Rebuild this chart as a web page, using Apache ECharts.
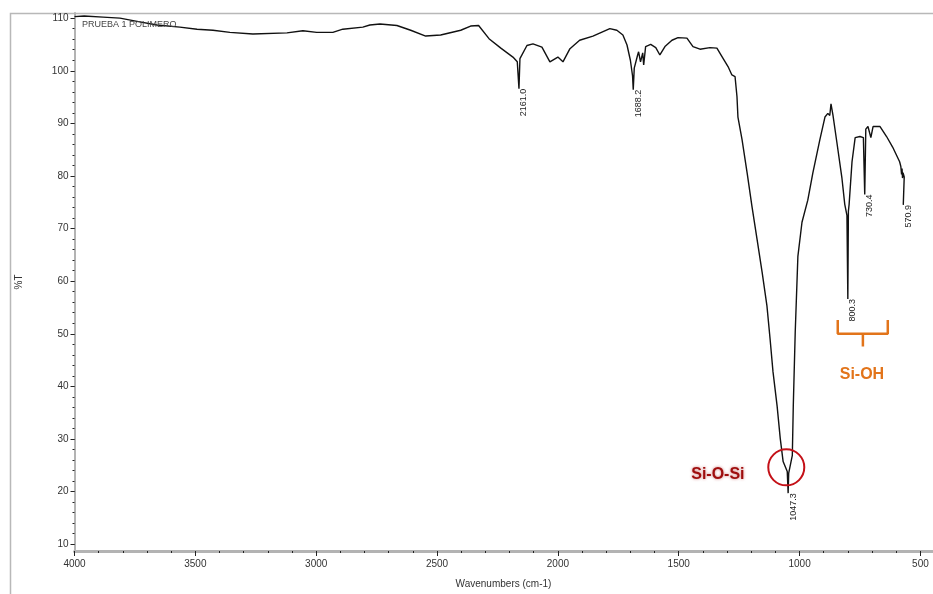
<!DOCTYPE html>
<html>
<head>
<meta charset="utf-8">
<script src="https://cdn.jsdelivr.net/npm/echarts@6.0.0/dist/echarts.min.js"></script>
<style>
  html, body { margin: 0; padding: 0; background: #fff; }
  #chart { width: 933px; height: 594px; }
</style>
</head>
<body>
<div id="chart"></div>
<script>
// FTIR spectrum of sample "PRUEBA 1 POLIMERO"
const wavenumber = [
  4000, 3960, 3882, 3812, 3741, 3659, 3564, 3493, 3427, 3357, 3262, 3121, 3055, 2998, 2931,
  2890, 2807, 2778, 2736, 2666, 2609, 2547, 2485, 2402, 2361, 2328, 2285, 2236, 2186, 2168,
  2161.0, 2157, 2128, 2103, 2066, 2033, 2000, 1979, 1950, 1910, 1855, 1785, 1756, 1731, 1714,
  1700, 1691, 1688.2, 1684, 1670, 1666, 1658, 1649, 1645, 1637, 1616, 1595, 1578, 1557, 1528,
  1503, 1466, 1441, 1412, 1371, 1342, 1321, 1296, 1280, 1267, 1259, 1255, 1238, 1217, 1197,
  1176, 1155, 1135, 1122, 1110, 1093, 1080, 1068, 1051, 1047.3, 1045, 1030, 1026, 1018, 1007,
  990, 966, 945, 916, 895, 883, 875, 870, 862, 846, 825, 813, 804, 800.3, 798,
  795, 783, 770, 750, 736, 730.4, 726, 717, 705, 696, 667, 640, 615, 586, 581,
  578, 576, 574, 572, 567, 570.9
];
const transmittance = [
  110.3, 110.4, 110.2, 110.0, 109.4, 108.7, 108.3, 107.9, 107.7, 107.3, 107.0, 107.2, 107.6, 107.3, 107.3,
  107.9, 108.3, 108.7, 108.9, 108.6, 107.7, 106.6, 106.8, 107.7, 108.5, 108.6, 106.1, 104.3, 102.6, 101.7,
  96.6, 102.3, 104.8, 105.1, 104.5, 101.7, 102.6, 101.7, 104.2, 105.8, 106.6, 108.0, 107.7, 106.8, 104.9,
  102.0, 99.0, 96.4, 100.5, 103.0, 103.6, 101.7, 103.4, 101.1, 104.6, 105.0, 104.4, 103.0, 104.6, 105.8,
  106.3, 106.2, 104.6, 104.1, 104.4, 104.3, 102.7, 100.8, 99.2, 98.9, 95.1, 91.2, 86.9, 80.6, 74.2,
  68.0, 61.7, 55.3, 49.0, 42.8, 36.3, 30.1, 25.7, 23.8, 19.7, 23.5, 26.9, 36.3, 50.3, 64.7,
  71.2, 75.4, 80.6, 86.9, 91.2, 91.9, 91.5, 93.7, 91.6, 86.5, 79.7, 74.6, 72.5, 56.6, 73.3,
  74.6, 82.7, 87.3, 87.5, 87.3, 76.5, 88.9, 89.4, 87.3, 89.4, 89.4, 87.5, 85.5, 82.7, 81.8,
  80.3, 81.4, 79.6, 80.6, 79.8, 74.5
];

// Labelled peaks (wavenumber, %T at the peak)
const peakWavenumber = [2161.0, 1688.2, 1047.3, 800.3, 730.4, 570.9];
const peakTransmittance = [96.6, 96.4, 19.7, 56.6, 76.5, 74.5];

// Axis ticks
const xTickValues = [4000, 3500, 3000, 2500, 2000, 1500, 1000, 500];
const xMinorValues = [];
for (let v = 500; v <= 4000; v += 100) xMinorValues.push(v);
const yTickValues = [10, 20, 30, 40, 50, 60, 70, 80, 90, 100, 110];
const yMinorValues = [];
for (let v = 10; v <= 110; v += 2) yMinorValues.push(v);

// Band assignments
const siOSiLabel = ['Si-O-Si'];
const siOSiLabelAt = [1338, 23.3];
const siOSiCircleAt = [1055, 24.6];
const siOHLabel = ['Si-OH'];
const siOHLabelAt = [742, 42.2];
const siOHBracketLeft = 842;
const siOHBracketRight = 635;
const siOHBracketMid = 738;
const siOHBracketTop = 52.6;
const siOHBracketBar = 50.0;
const siOHBracketStem = 47.6;

const X_MIN = 450, X_MAX = 4000, Y_MIN = 8.7, Y_MAX = 111;
const axisGrey = '#b3b3b3';
const txt = '#333';
const fontFamily = 'Liberation Sans, Arial, sans-serif';
const orange = '#e2741a';
const darkRed = '#9e0d0d';

const spectrum = wavenumber.map((w, i) => [w, transmittance[i]]);
const peaks = peakWavenumber.map((w, i) => [w, peakTransmittance[i]]);
const plainNumber = v => String(v);

const chart = echarts.init(document.getElementById('chart'), null, { renderer: 'canvas' });

chart.setOption({
  animation: false,
  backgroundColor: '#fff',
  textStyle: { fontFamily },
  title: {
    text: 'PRUEBA 1 POLIMERO',
    left: 77, top: 15,
    textStyle: { fontSize: 9, fontWeight: 'normal', color: '#444', fontFamily }
  },
  graphic: [{
    type: 'rect',
    shape: { x: 10.5, y: 13.5, width: 940, height: 600 },
    style: { fill: 'none', stroke: '#b8b8b8', lineWidth: 1.5 },
    silent: true, z: -1
  }],
  grid: { left: 74.5, top: 12.9, width: 858, height: 540 },
  xAxis: [{
    type: 'value', inverse: true, min: X_MIN, max: X_MAX,
    name: 'Wavenumbers (cm-1)', nameLocation: 'middle', nameGap: 28,
    nameTextStyle: { fontSize: 10, color: txt, fontFamily },
    axisLine: { show: true, onZero: false, lineStyle: { color: axisGrey, width: 3 } },
    axisTick: { show: true, customValues: xTickValues, length: 5, lineStyle: { color: '#222', width: 1 } },
    axisLabel: { customValues: xTickValues, formatter: plainNumber, fontSize: 10, color: txt, margin: 8, fontFamily },
    splitLine: { show: false }
  }, {
    type: 'value', inverse: true, min: X_MIN, max: X_MAX, position: 'bottom',
    axisLine: { show: false },
    axisTick: { show: true, customValues: xMinorValues, length: 2, lineStyle: { color: '#222', width: 1 } },
    axisLabel: { show: false },
    splitLine: { show: false }
  }],
  yAxis: [{
    type: 'value', min: Y_MIN, max: Y_MAX,
    name: '%T', nameLocation: 'middle', nameGap: 50,
    nameTextStyle: { fontSize: 10, color: txt, fontFamily },
    axisLine: { show: true, onZero: false, lineStyle: { color: axisGrey, width: 2 } },
    axisTick: { show: true, customValues: yTickValues, length: 4, lineStyle: { color: '#222', width: 1 } },
    axisLabel: { customValues: yTickValues, formatter: plainNumber, fontSize: 10, color: txt, margin: 6, fontFamily },
    splitLine: { show: false }
  }, {
    type: 'value', min: Y_MIN, max: Y_MAX, position: 'left',
    axisLine: { show: false },
    axisTick: { show: true, customValues: yMinorValues, length: 2, lineStyle: { color: '#222', width: 1 } },
    axisLabel: { show: false },
    splitLine: { show: false }
  }],
  series: [{
    name: 'spectrum', type: 'line', data: spectrum,
    showSymbol: false, symbol: 'none',
    lineStyle: { color: '#111', width: 1.4 },
    z: 3
  }, {
    name: 'peaks', type: 'scatter', data: peaks,
    symbolSize: 0.1, itemStyle: { color: 'transparent', opacity: 1 },
    label: {
      show: true, position: 'bottom', distance: 1,
      rotate: 90, align: 'right', verticalAlign: 'middle',
      offset: [1, 5],
      formatter: p => p.value[0].toFixed(1),
      fontSize: 9, color: '#222', fontFamily
    },
    z: 4
  }, {
    name: 'siOSiCircle', type: 'scatter', data: [siOSiCircleAt],
    symbol: 'circle', symbolSize: 36,
    itemStyle: { color: 'rgba(0,0,0,0)', borderColor: '#c41017', borderWidth: 2, opacity: 1 },
    z: 5
  }, {
    name: 'siOSiText', type: 'scatter', data: [siOSiLabelAt],
    symbolSize: 0.1, itemStyle: { color: 'transparent', opacity: 1 },
    label: {
      show: true, position: 'inside', formatter: siOSiLabel[0],
      fontSize: 16, fontWeight: 'bold', color: darkRed, fontFamily,
      textShadowColor: 'rgba(170,20,20,0.55)', textShadowBlur: 3
    },
    z: 5
  }, {
    name: 'siOHText', type: 'scatter', data: [siOHLabelAt],
    symbolSize: 0.1, itemStyle: { color: 'transparent', opacity: 1 },
    label: {
      show: true, position: 'inside', formatter: siOHLabel[0],
      fontSize: 16, fontWeight: 'bold', color: orange, fontFamily
    },
    z: 5
  }, {
    name: 'siOHBracket', type: 'line',
    data: [[siOHBracketLeft, siOHBracketTop], [siOHBracketLeft, siOHBracketBar],
           [siOHBracketRight, siOHBracketBar], [siOHBracketRight, siOHBracketTop]],
    symbol: 'none', lineStyle: { color: orange, width: 2.5 }, z: 5
  }, {
    name: 'siOHStem', type: 'line',
    data: [[siOHBracketMid, siOHBracketBar], [siOHBracketMid, siOHBracketStem]],
    symbol: 'none', lineStyle: { color: orange, width: 2.5 }, z: 5
  }]
});
</script>
</body>
</html>
